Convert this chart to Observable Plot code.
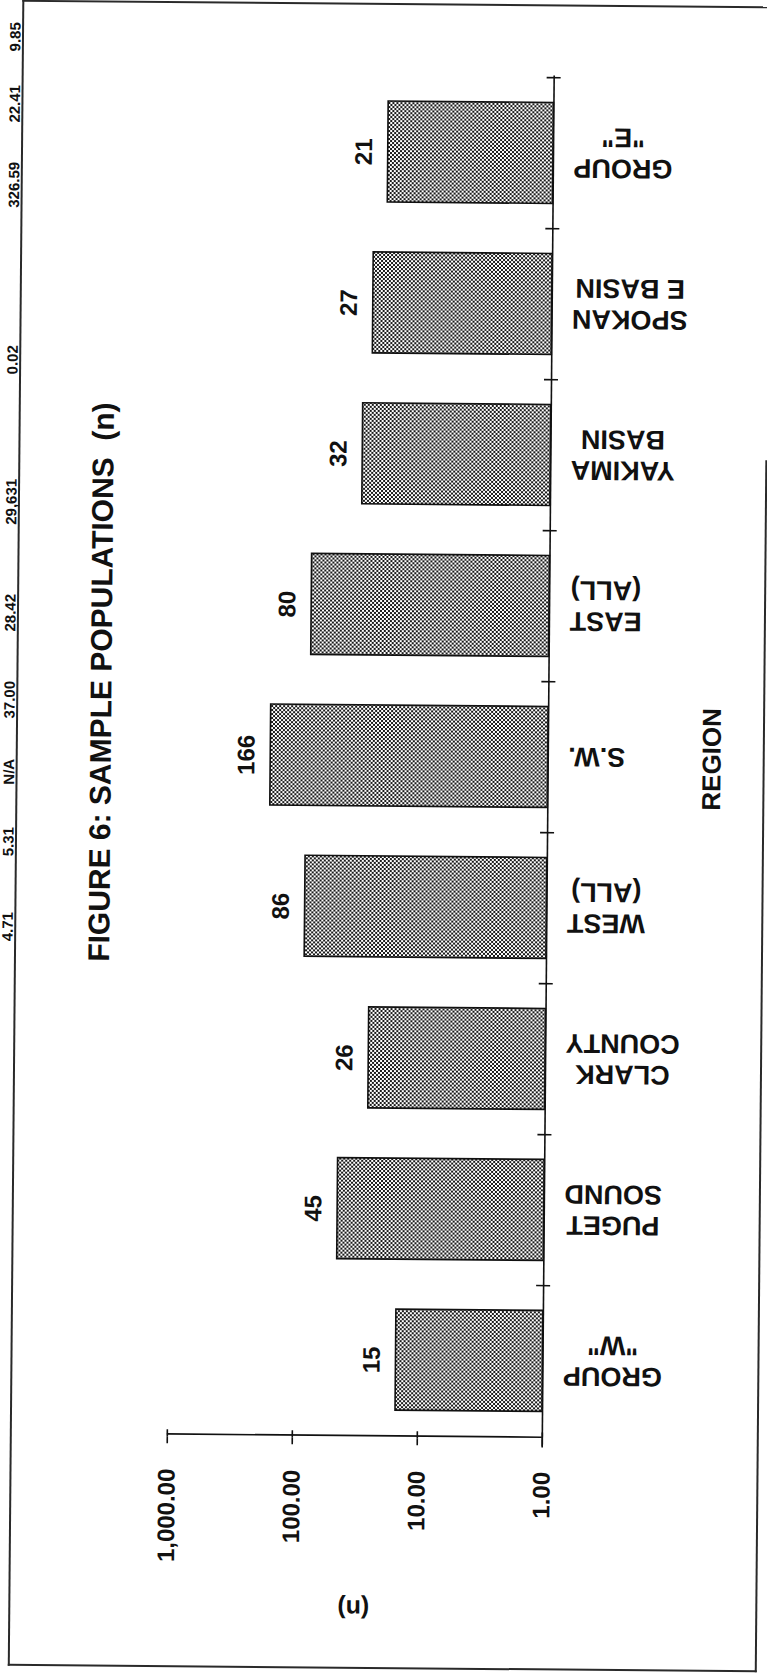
<!DOCTYPE html>
<html><head><meta charset="utf-8">
<script src="https://cdn.jsdelivr.net/npm/d3@7"></script>
<script src="https://cdn.jsdelivr.net/npm/@observablehq/plot@0.6"></script>
<style>
html,body{margin:0;padding:0;background:#fff;}
#page{position:relative;width:767px;height:1680px;overflow:hidden;background:#fff;}
#sheet{position:absolute;left:0;top:0;width:767px;height:1680px;transform:rotate(0.5deg);transform-origin:383.5px 840px;}
#sheet svg{position:absolute;left:0;top:0;}
.line{position:absolute;background:#2a2a2a;}
.strip{position:absolute;left:8px;font:bold 15px/1 "Liberation Sans",Arial,sans-serif;color:#111;transform:translate(-50%,-50%) rotate(-90deg);white-space:nowrap;}
</style></head>
<body><div id="page"><div id="sheet"></div></div>
<script>
// ---- data ----
const regions = ['GROUP\n"W"', 'PUGET\nSOUND', 'CLARK\nCOUNTY', 'WEST\n(ALL)', 'S.W.', 'EAST\n(ALL)', 'YAKIMA\nBASIN', 'SPOKAN\nE BASIN', 'GROUP\n"E"'];
const counts = [15, 45, 26, 86, 166, 80, 32, 27, 21];
const valueTicks = [1, 10, 100, 1000];
const titleText = "FIGURE 6: SAMPLE POPULATIONS\u00a0\u00a0(n)";
const yLabel = "(n)";
const xLabel = "REGION";
// fragments of the neighbouring table, cut by the page edge
const stripValues = ["9.85", "22.41", "326.59", "0.02", "29,631", "28.42", "37.00", "N/A", "5.31", "4.71"];

// ---- layout ----
const W = 767, H = 1680;
const mL = 172, mR = 220, mT = 74, mB = 242;
const step = (H - mT - mB) / regions.length;
const stripTop = [40, 107, 188, 363, 505, 616, 703, 775, 845, 930];
const font = '"Liberation Sans", Arial, Helvetica, sans-serif';
const ink = "#111";

const data = regions.map((r, i) => ({region: r, n: counts[i]}));

const defsMark = () => {
  const ns = "http://www.w3.org/2000/svg";
  const defs = document.createElementNS(ns, "defs");
  const pat = document.createElementNS(ns, "pattern");
  pat.setAttribute("id", "dither");
  pat.setAttribute("width", 4);
  pat.setAttribute("height", 4);
  pat.setAttribute("patternUnits", "userSpaceOnUse");
  const cells = [[0, 0, 4, 4, "#fff"], [0, 0, 2, 2, "#1a1a1a"], [2, 2, 2, 2, "#1a1a1a"]];
  for (const [x, y, w, h, f] of cells) {
    const r = document.createElementNS(ns, "rect");
    r.setAttribute("x", x); r.setAttribute("y", y);
    r.setAttribute("width", w); r.setAttribute("height", h);
    r.setAttribute("fill", f);
    pat.appendChild(r);
  }
  defs.appendChild(pat);
  return defs;
};

const chart = Plot.plot({
  width: W, height: H,
  marginLeft: mL, marginRight: mR, marginTop: mT, marginBottom: mB,
  style: {fontFamily: font, background: "transparent", color: ink, overflow: "visible"},
  x: {type: "log", domain: [1, 1000], reverse: true, axis: null},
  y: {domain: regions.slice().reverse(), paddingInner: 0.33, paddingOuter: 0.165, axis: null},
  marks: [
    defsMark,
    Plot.barX(data, {y: "region", x1: 1, x2: "n", fill: "url(#dither)", stroke: ink, strokeWidth: 1.6}),
    Plot.ruleX([1], {stroke: ink, strokeWidth: 1.6, insetBottom: -8}),
    Plot.ruleY(regions, {y: d => d, x1: 1, x2: 1, insetLeft: -7, insetRight: -7, dy: -step / 2, stroke: ink, strokeWidth: 1.6}),
    Plot.ruleY([regions[0]], {y: d => d, x1: 1, x2: 1000, dy: step / 2, stroke: ink, strokeWidth: 1.6}),
    Plot.tickX(valueTicks, {x: d => d, insetTop: (H - mT - mB) - 7, stroke: ink, strokeWidth: 1.6}),
    Plot.axisX({ticks: valueTicks, tickFormat: d3.format(",.2f"), tickRotate: -90, tickSize: 7, tickPadding: 25,
      fontSize: 24, fontWeight: "bold", label: null, stroke: ink, strokeWidth: 1.6}),
    Plot.text(data, {x: "n", y: "region", text: d => String(d.n), rotate: -90, dx: -24,
      fontSize: 24, fontWeight: "bold", fill: ink}),
    Plot.text(data, {x: 1, y: "region", text: "region", rotate: 180, dx: 20, textAnchor: "middle",
      fontSize: 27, fontWeight: "bold", lineHeight: 1.15, fill: ink}),
    Plot.text([titleText], {frameAnchor: "left", text: d => d, rotate: -90, dx: -72, dy: -72, textAnchor: "middle",
      fontSize: 30, fontWeight: "bold", fill: ink}),
    Plot.text([xLabel], {frameAnchor: "right", text: d => d, rotate: -90, dx: 164, textAnchor: "middle",
      fontSize: 26, fontWeight: "bold", fill: ink}),
    Plot.text([yLabel], {frameAnchor: "bottom", text: d => d, rotate: 180, dy: 162, textAnchor: "middle",
      fontSize: 25, fontWeight: "bold", fill: ink})
  ]
});

const sheet = document.getElementById("sheet");
sheet.appendChild(chart);

// align each category label block so its edge nearest the axis sits at the anchor
const flat = new Set(regions.map(r => r.replace("\n", "")));
chart.querySelectorAll("text").forEach(t => {
  if (!flat.has(t.textContent)) return;
  const b = t.getBBox();
  const shift = b.width / 2;
  t.setAttribute("transform", `translate(${shift},0) ` + (t.getAttribute("transform") || ""));
});

// page frame
const lines = [
  {left: 15, top: 3, width: 752, height: 2},
  {left: 15, top: 3, width: 2, height: 1666},
  {left: 15, top: 1667, width: 749, height: 2},
  {left: 762, top: 457, width: 2, height: 1212}
];
for (const l of lines) {
  const d = document.createElement("div");
  d.className = "line";
  Object.assign(d.style, {left: l.left + "px", top: l.top + "px", width: l.width + "px", height: l.height + "px"});
  sheet.appendChild(d);
}
stripValues.forEach((v, i) => {
  const d = document.createElement("div");
  d.className = "strip";
  d.textContent = v;
  d.style.top = stripTop[i] + "px";
  sheet.appendChild(d);
});
</script>
</body></html>
